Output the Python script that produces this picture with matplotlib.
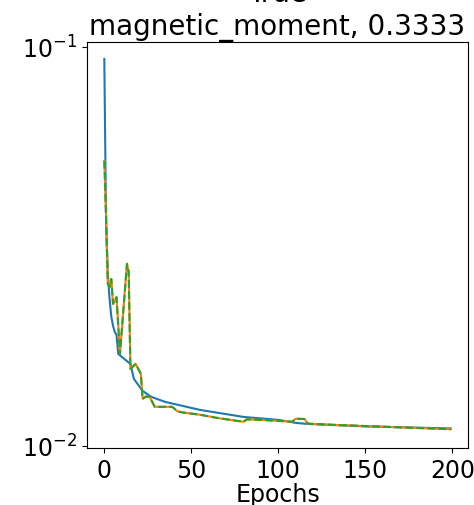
import matplotlib
matplotlib.use("Agg")
import matplotlib.pyplot as plt

# blue curve (solid)
blue_epochs = [0, 1, 2, 3, 4, 5, 6, 7, 8, 15, 17, 22, 27, 35, 55, 80, 100, 110, 117, 150, 199]
blue_vals = [0.0933, 0.0360, 0.0270, 0.0234, 0.0211, 0.0200, 0.0193, 0.0190, 0.0170,
             0.01605, 0.01472, 0.01374, 0.01327, 0.01289, 0.01231, 0.01182, 0.01162,
             0.01142, 0.01135, 0.01119, 0.01106]

# orange / green curve (same values, green dashed on top)
pred_epochs = [0, 1, 2, 3, 4, 5, 7, 9, 13, 14, 15, 18, 21, 22, 24, 26, 29, 39, 42, 45,
               55, 65, 76, 80, 82, 93, 108, 110, 115, 117, 130, 199]
pred_vals = [0.0518, 0.0380, 0.0255, 0.0250, 0.0262, 0.0227, 0.0236, 0.0170, 0.0286,
             0.0273, 0.0156, 0.01605, 0.01515, 0.01312, 0.0133, 0.01327, 0.01253,
             0.01253, 0.01221, 0.01213, 0.01197, 0.01175, 0.01156, 0.0115, 0.01166,
             0.0116, 0.0115, 0.0117, 0.01168, 0.01137, 0.0113, 0.01101]

fig = plt.figure(figsize=(4.74, 5.06), dpi=100)
ax = fig.add_axes([87 / 474, 57 / 506, 381 / 474, 406 / 506])

ax.plot(blue_epochs, blue_vals, color="C0", lw=1.5)
ax.plot(pred_epochs, pred_vals, color="C1", lw=1.5)
ax.plot(pred_epochs, pred_vals, color="C2", lw=1.5, ls="--")

ax.set_yscale("log")
ax.set_xlim(-9.95, 208.95)
ax.set_ylim(0.00988, 0.1029)
ax.minorticks_off()
ax.set_xticks([0, 50, 100, 150, 200])
ax.tick_params(labelsize=17)
ax.set_xlabel("Epochs", fontsize=17, labelpad=0)
ax.set_title("True\nmagnetic_moment, 0.3333", fontsize=20)

fig.savefig("out.png", dpi=100)
